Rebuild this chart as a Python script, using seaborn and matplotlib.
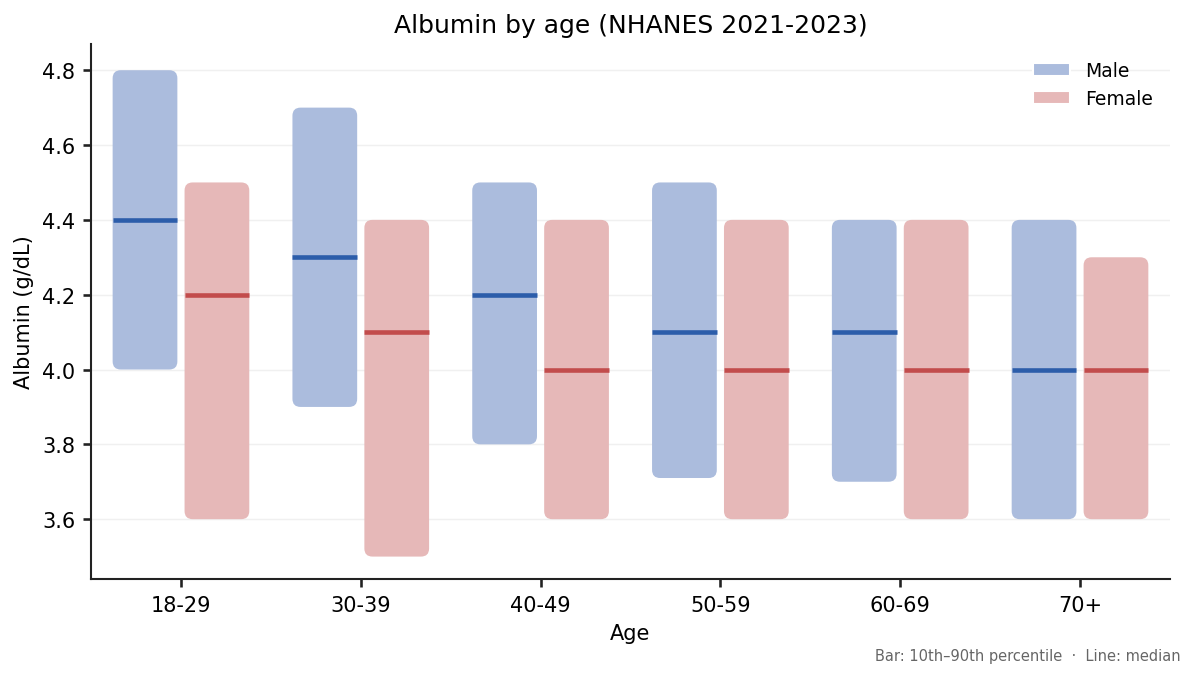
import numpy as np
import pandas as pd
import matplotlib
matplotlib.use('Agg')
import matplotlib.pyplot as plt
from matplotlib.patches import FancyBboxPatch, Patch
import seaborn as sns

# data
ages = ['18-29', '30-39', '40-49', '50-59', '60-69', '70+']
male_p10 = [4.0, 3.9, 3.8, 3.71, 3.7, 3.6]
male_p90 = [4.8, 4.7, 4.5, 4.5, 4.4, 4.4]
male_med = [4.4, 4.3, 4.2, 4.1, 4.1, 4.0]
female_p10 = [3.6, 3.5, 3.6, 3.6, 3.6, 3.6]
female_p90 = [4.5, 4.4, 4.4, 4.4, 4.4, 4.3]
female_med = [4.2, 4.1, 4.0, 4.0, 4.0, 4.0]

fill_colors = {'Male': '#abbcdd', 'Female': '#e6b8b8'}
line_colors = {'Male': '#2c5daa', 'Female': '#c24c4c'}

df = pd.DataFrame({
    'Age': ages * 2,
    'Sex': ['Male'] * len(ages) + ['Female'] * len(ages),
    'low': male_p10 + female_p10,
    'high': male_p90 + female_p90,
    'median': male_med + female_med,
})
df['span'] = df['high'] - df['low']

sns.set_theme(style='ticks')
plt.rcParams['font.family'] = ['DejaVu Sans']
plt.rcParams['text.color'] = 'black'
plt.rcParams['axes.labelcolor'] = 'black'
plt.rcParams['xtick.color'] = 'black'
plt.rcParams['ytick.color'] = 'black'

fig = plt.figure(figsize=(1195 / 150, 678 / 150), dpi=150)
ax = fig.add_axes([0.0762, 0.1445, 0.9028, 0.7891])

sns.barplot(data=df, x='Age', y='span', hue='Sex', order=ages,
            hue_order=['Male', 'Female'], palette=fill_colors,
            width=0.8, gap=0.1, legend=False, ax=ax)

# move each bar to start at its 10th percentile, and round the corners
bars = list(ax.patches)
for p in bars:
    cx = p.get_x() + p.get_width() / 2
    i = int(round(cx))
    sex = 'Male' if cx < i else 'Female'
    row = df[(df['Age'] == ages[i]) & (df['Sex'] == sex)].iloc[0]
    x0, w = p.get_x(), p.get_width()
    p.remove()
    box = FancyBboxPatch((x0, row['low']), w, row['span'],
                         boxstyle='round,pad=0,rounding_size=0.045',
                         mutation_aspect=0.48,
                         facecolor=fill_colors[sex], edgecolor='none',
                         zorder=2)
    ax.add_patch(box)
    ax.hlines(row['median'], x0, x0 + w, color=line_colors[sex],
              linewidth=2.2, zorder=3)

ax.set_xlim(-0.5, 5.5)
ax.set_ylim(3.44, 4.87)
ax.set_yticks([3.6, 3.8, 4.0, 4.2, 4.4, 4.6, 4.8])
ax.yaxis.grid(True, color='#f0f0f0', linewidth=0.7)
ax.set_axisbelow(True)
sns.despine(ax=ax)
for s in ['left', 'bottom']:
    ax.spines[s].set_color('#222222')
    ax.spines[s].set_linewidth(1.0)
ax.tick_params(axis='both', labelsize=10, color='#222222', length=4)

ax.set_title('Albumin by age (NHANES 2021-2023)', fontsize=12)
ax.set_xlabel('Age', fontsize=10)
ax.set_ylabel('Albumin (g/dL)', fontsize=10)

handles = [Patch(facecolor=fill_colors['Male'], label='Male'),
           Patch(facecolor=fill_colors['Female'], label='Female')]
ax.legend(handles=handles, loc='upper right', frameon=False, fontsize=9)

fig.text(0.988, 0.032, 'Bar: 10th\u201390th percentile  \u00b7  Line: median',
         ha='right', va='center', fontsize=7, color='#666666')

fig.savefig('out.png', dpi=150)
